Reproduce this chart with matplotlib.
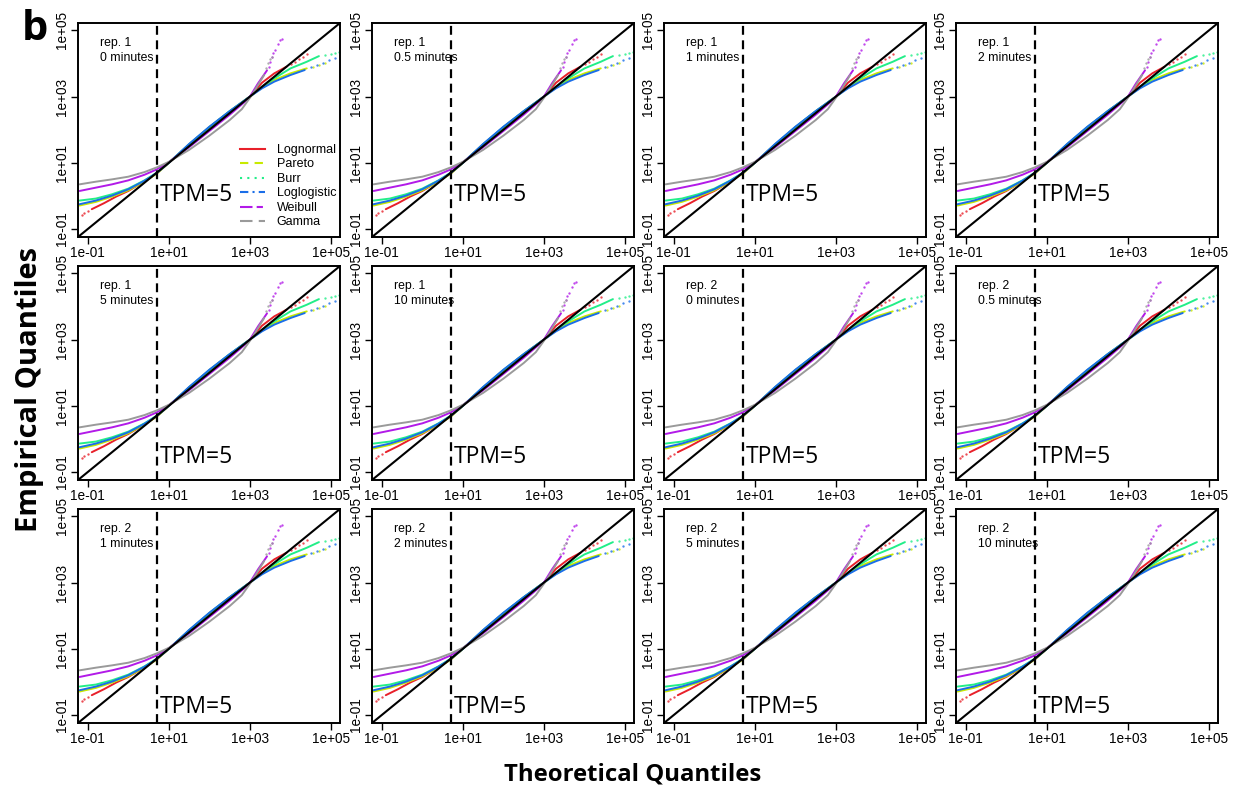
import numpy as np
import matplotlib.pyplot as plt
from matplotlib.lines import Line2D
import matplotlib.transforms as mtransforms

plt.rcParams['font.family'] = ['Liberation Sans', 'DejaVu Sans']

# panel captions
reps = ["rep. 1"] * 6 + ["rep. 2"] * 6
times = ["0 minutes", "0.5 minutes", "1 minutes", "2 minutes", "5 minutes", "10 minutes",
         "0 minutes", "0.5 minutes", "1 minutes", "2 minutes", "5 minutes", "10 minutes"]

# curves, log10(theoretical) vs log10(empirical)
lognormal_x = [-0.9, -0.6, -0.3, 0.0, 0.4, 0.7, 1.0, 1.5, 2.0, 2.5, 3.0, 3.3, 3.6, 3.9]
lognormal_y = [-0.4, -0.22, -0.02, 0.15, 0.44, 0.68, 1.0, 1.55, 2.07, 2.55, 3.0, 3.42, 3.7, 3.9]
lognormal_tx = [-1.15, -1.08, -1.0, 4.0, 4.1, 4.2, 4.3, 4.4]
lognormal_ty = [-0.57, -0.52, -0.47, 3.97, 4.05, 4.12, 4.2, 4.28]

pareto_x = [-1.2, -0.8, -0.4, 0.0, 0.4, 0.7, 1.0, 1.5, 2.0, 2.5, 3.0, 3.3, 3.6, 4.0, 4.4]
pareto_y = [-0.29, -0.18, -0.02, 0.17, 0.44, 0.67, 1.0, 1.55, 2.07, 2.55, 3.0, 3.27, 3.5, 3.7, 3.85]
pareto_tx = [4.55, 4.7, 4.85]
pareto_ty = [3.9, 3.95, 4.0]

burr_x = [-1.2, -0.8, -0.4, 0.0, 0.4, 0.7, 1.0, 1.5, 2.0, 2.5, 3.0, 3.3, 3.6, 4.0, 4.4, 4.7]
burr_y = [-0.14, -0.08, 0.05, 0.22, 0.47, 0.7, 1.0, 1.56, 2.08, 2.56, 3.0, 3.3, 3.55, 3.85, 4.05, 4.22]
burr_tx = [4.85, 5.0, 5.1, 5.2]
burr_ty = [4.26, 4.28, 4.3, 4.33]

loglogistic_x = [-1.2, -0.8, -0.4, 0.0, 0.4, 0.7, 1.0, 1.5, 2.0, 2.5, 3.0, 3.3, 3.6, 4.0, 4.35]
loglogistic_y = [-0.25, -0.14, 0.01, 0.2, 0.46, 0.69, 1.0, 1.57, 2.09, 2.56, 3.0, 3.25, 3.45, 3.65, 3.8]
loglogistic_tx = [4.5, 4.65, 4.8, 4.95, 5.1]
loglogistic_ty = [3.88, 3.95, 4.02, 4.1, 4.15]

weibull_x = [-1.2, -0.8, -0.4, 0.0, 0.4, 0.7, 1.0, 1.5, 2.0, 2.5, 2.9, 3.0, 3.2, 3.42]
weibull_y = [0.15, 0.25, 0.35, 0.47, 0.64, 0.8, 1.02, 1.47, 1.96, 2.45, 2.87, 3.0, 3.4, 3.79]
weibull_tx = [3.46, 3.5, 3.54, 3.58, 3.62, 3.68, 3.74, 3.8]
weibull_ty = [3.9, 4.05, 4.18, 4.3, 4.42, 4.6, 4.72, 4.75]

gamma_x = [-1.2, -0.8, -0.4, 0.0, 0.4, 0.7, 1.0, 1.5, 2.0, 2.5, 2.8, 3.05, 3.2, 3.35]
gamma_y = [0.35, 0.43, 0.5, 0.58, 0.72, 0.86, 1.03, 1.39, 1.82, 2.29, 2.62, 3.05, 3.35, 3.65]
gamma_tx = [3.4, 3.45, 3.5, 3.55]
gamma_ty = [3.85, 4.0, 4.12, 4.2]

curves = [
    ("Lognormal", "#e8202a", "-", lognormal_x, lognormal_y, lognormal_tx, lognormal_ty),
    ("Pareto", "#c8ea00", (0, (4, 3)), pareto_x, pareto_y, pareto_tx, pareto_ty),
    ("Burr", "#22ee88", (0, (1, 2.5)), burr_x, burr_y, burr_tx, burr_ty),
    ("Loglogistic", "#1a6ee8", (0, (4, 2, 1, 2)), loglogistic_x, loglogistic_y, loglogistic_tx, loglogistic_ty),
    ("Weibull", "#b21ae8", (0, (6, 2, 3, 2)), weibull_x, weibull_y, weibull_tx, weibull_ty),
    ("Gamma", "#9a9a9a", (0, (6, 3)), gamma_x, gamma_y, gamma_tx, gamma_ty),
]

tick_vals = [0.1, 10, 1000, 100000]
tick_labels = ["1e-01", "1e+01", "1e+03", "1e+05"]
tpm = 5

W, H = 1234, 793
fig = plt.figure(figsize=(12.34, 7.93), dpi=100)

lefts = [78, 372, 664, 956]
tops = [23, 266, 509]
pw, ph = 262, 214
tpm_y = [0.17, 0.08, 0.045]
lo, hi = -1.24, 5.22

for i in range(12):
    r, c = divmod(i, 4)
    ax = fig.add_axes([lefts[c] / W, 1 - (tops[r] + ph) / H, pw / W, ph / H])
    for name, col, ls, x, y, tx, ty in curves:
        ax.plot(10 ** np.array(x), 10 ** np.array(y), color=col, lw=1.4,
                solid_capstyle='round', solid_joinstyle='round')
        ax.plot(10 ** np.array(tx), 10 ** np.array(ty), color=col, ls='none',
                marker='o', ms=1.7, mew=0, alpha=0.8)
    ax.plot([10 ** lo, 10 ** hi], [10 ** lo, 10 ** hi], color='k', lw=1.5)
    ax.axvline(tpm, color='k', lw=1.6, ls=(0, (4, 2.5)))
    ax.set_xscale('log')
    ax.set_yscale('log')
    ax.set_xlim(10 ** lo, 10 ** hi)
    ax.set_ylim(10 ** lo, 10 ** hi)
    ax.set_xticks(tick_vals, tick_labels)
    ax.set_yticks(tick_vals, tick_labels)
    ax.minorticks_off()
    ax.tick_params(direction='out', length=5, width=1, labelsize=9.8, pad=1.5)
    ax.tick_params(axis='y', labelrotation=90)
    for lab in ax.get_yticklabels():
        lab.set_va('center')
    for s in ax.spines.values():
        s.set_linewidth(1.4)
    ax.text(0.084, 0.935, reps[i] + "\n" + times[i], transform=ax.transAxes,
            fontsize=8.8, va='top', ha='left', linespacing=1.3)
    trans = mtransforms.blended_transform_factory(ax.transData, ax.transAxes)
    ax.text(tpm * 1.18, tpm_y[r], "TPM=5", transform=trans, fontsize=16.5,
            family=['Open Sans', 'DejaVu Sans'], ha='left', va='baseline')
    if i == 0:
        handles = [Line2D([], [], color=col, ls=ls, lw=1.5) for name, col, ls, *_ in curves]
        ax.legend(handles, [cv[0] for cv in curves], loc='lower left',
                  bbox_to_anchor=(0.62, 0.04), frameon=False, fontsize=9,
                  handlelength=2.0, handletextpad=0.9, labelspacing=0.2,
                  borderpad=0, borderaxespad=0)

fig.text(22 / W, 1 - 30 / H, "b", fontsize=30, fontweight='bold', va='center', ha='left',
         family=['Open Sans', 'DejaVu Sans'])
fig.text(30 / W, 1 - 389 / H, "Empirical Quantiles", fontsize=21, fontweight='bold',
         rotation=90, va='center', ha='center', family=['Open Sans', 'DejaVu Sans'])
fig.text(633 / W, 1 - 775 / H, "Theoretical Quantiles", fontsize=17.2, fontweight='bold',
         va='center', ha='center', family=['Open Sans', 'DejaVu Sans'])

fig.savefig('out.png', dpi=100)
